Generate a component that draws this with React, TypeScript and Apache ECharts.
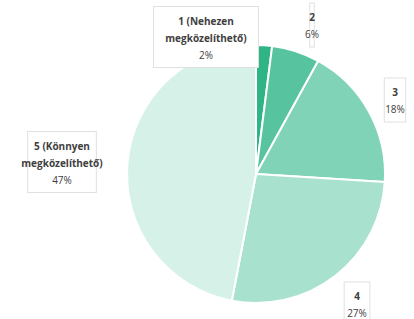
import React, { useEffect, useRef } from "react";
import * as echarts from "echarts";

const categories = ["1 (Nehezen\nmegközelíthető)", "2", "3", "4", "5 (Könnyen\nmegközelíthető)"];
const values = [2, 6, 18, 27, 47];
const colors = ["#2fb585", "#58c49f", "#80d3b6", "#a8e1cd", "#d6f2e8"];
const labelPos: [number, number][] = [
  [206, 37],
  [312, 25],
  [395, 100],
  [357, 304],
  [62, 162],
];

export default function App() {
  const ref = useRef<HTMLDivElement>(null);
  useEffect(() => {
    document.body.style.margin = "0";
    const chart = echarts.init(ref.current!, null, { renderer: "svg" });
    chart.setOption({
      animation: false,
      backgroundColor: "#ffffff",
      series: [
        {
          type: "pie",
          center: [256, 174],
          radius: [0, 129],
          startAngle: 90,
          clockwise: true,
          data: categories.map((c, i) => ({
            name: c,
            value: values[i],
            itemStyle: { color: colors[i] },
          })),
          itemStyle: { borderColor: "#ffffff", borderWidth: 2 },
          labelLine: { show: false },
          label: {
            show: true,
            position: "outside",
            alignTo: "none",
            overflow: "none",
            formatter: (p: any) => `{n|${p.name}}\n{p|${p.value}%}`,
            backgroundColor: "#ffffff",
            borderColor: "#e0e0e0",
            borderWidth: 1,
            padding: [5, 7, 4, 7],
            align: "center",
            rich: {
              n: {
                fontFamily: "Open Sans",
                fontWeight: "bold",
                fontSize: 10,
                color: "#404040",
                lineHeight: 17,
                align: "center",
              },
              p: {
                fontFamily: "Open Sans",
                fontSize: 10,
                color: "#404040",
                lineHeight: 17,
                align: "center",
              },
            },
          },
          labelLayout: (params: any) => {
            const pos = labelPos[params.dataIndex];
            return { x: pos[0], y: pos[1], align: "center", verticalAlign: "middle" };
          },
        },
      ],
    });
    return () => chart.dispose();
  }, []);
  return <div ref={ref} style={{ width: 414, height: 319 }} />;
}
